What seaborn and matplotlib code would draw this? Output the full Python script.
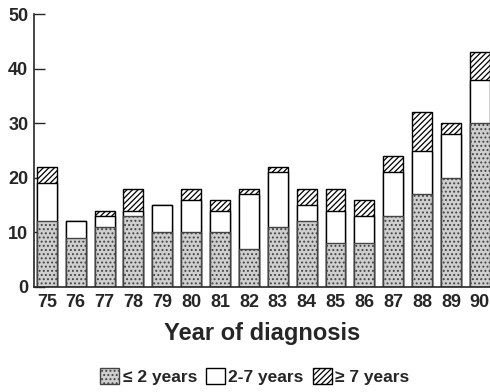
import numpy as np
import pandas as pd
import matplotlib
matplotlib.use("Agg")
import matplotlib.pyplot as plt
import seaborn as sns
from matplotlib.patches import Patch

years = ["75", "76", "77", "78", "79", "80", "81", "82",
         "83", "84", "85", "86", "87", "88", "89", "90"]
upTo2 = [12, 9, 11, 13, 10, 10, 10, 7, 11, 12, 8, 8, 13, 17, 20, 30]
twoTo7 = [7, 3, 2, 1, 5, 6, 4, 10, 10, 3, 6, 5, 8, 8, 8, 8]
over7 = [3, 0, 1, 4, 0, 2, 2, 1, 1, 3, 4, 3, 3, 7, 2, 5]

sns.set_style("ticks")
plt.rcParams["font.family"] = ["Liberation Sans", "DejaVu Sans"]
plt.rcParams["font.weight"] = "bold"
plt.rcParams["hatch.linewidth"] = 0.9

df = pd.DataFrame({"year": years, "a": upTo2, "b": twoTo7, "c": over7})
df["lvl1"] = df["a"]
df["lvl2"] = df["a"] + df["b"]
df["lvl3"] = df["lvl2"] + df["c"]

fig = plt.figure(figsize=(4.9, 3.92), dpi=100)
ax = fig.add_axes([0.069, 0.268, 0.931, 0.696])

# cumulative levels, tallest first so the lower ones sit on top
sns.barplot(data=df, x="year", y="lvl3", color="white", width=0.69,
            edgecolor="black", linewidth=1.0, hatch="//////", ax=ax)
sns.barplot(data=df, x="year", y="lvl2", color="white", width=0.69,
            edgecolor="black", linewidth=1.0, ax=ax)
sns.barplot(data=df, x="year", y="lvl1", color="#cfcfcf", width=0.69,
            edgecolor="#444444", linewidth=1.0, hatch="....", ax=ax)

ax.set_xlim(-0.45, 15.35)
ax.set_ylim(0, 50)
ax.set_yticks([0, 10, 20, 30, 40, 50])
ax.tick_params(axis="y", direction="in", length=8, width=1, labelsize=13, pad=4)
ax.tick_params(axis="x", length=0, labelsize=13, pad=5)
ax.set_ylabel("")
ax.set_xlabel("Year of diagnosis", fontsize=17, fontweight="bold", labelpad=8)
sns.despine(ax=ax, top=True, right=True)
for s in ["left", "bottom"]:
    ax.spines[s].set_linewidth(1.2)

handles = [
    Patch(facecolor="#cfcfcf", edgecolor="#444444", hatch="....", label="≤ 2 years"),
    Patch(facecolor="white", edgecolor="black", label="2-7 years"),
    Patch(facecolor="white", edgecolor="black", hatch="//////", label="≥ 7 years"),
]
fig.legend(handles=handles, loc="center", bbox_to_anchor=(0.52, 0.04), ncol=3,
           frameon=False, fontsize=12.5, handlelength=1.1, handleheight=1.1,
           handletextpad=0.2, columnspacing=0.5)

fig.savefig("out.png", dpi=100)
